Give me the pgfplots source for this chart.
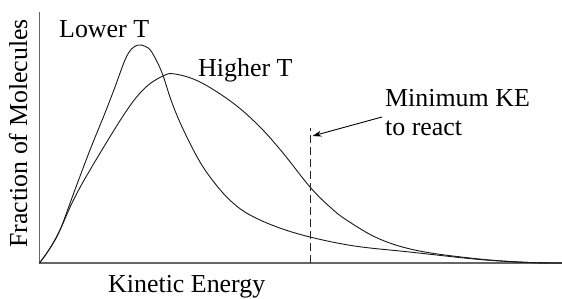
\documentclass[border=0pt]{standalone}
\usepackage{pgfplots}
\pgfplotsset{compat=1.18}
\usepackage{fontspec}
\setmainfont{Liberation Serif}
\usetikzlibrary{arrows.meta}
\begin{document}
\begin{tikzpicture}
\path[use as bounding box] (-39.5bp,-36bp) rectangle (522.5bp,263bp);
\begin{axis}[
  at={(0,0)}, anchor=south west,
  scale only axis, width=522.5bp, height=251bp,
  xmin=0, xmax=522.5, ymin=0, ymax=251,
  enlargelimits=false,
  axis lines=left,
  axis line style={-, draw=black!60, line width=1.2bp},
  xtick=\empty, ytick=\empty,
  clip=false,
]
\addplot[smooth, tension=0.6, black!90, line width=0.9bp] coordinates {
(0,0) (10,14) (20.5,33) (35,72) (50.5,113) (65.5,150) (75.5,176)
(85.5,203) (92,214) (99,218) (106,216.5) (112.2,211) (122.2,191)
(132.2,161) (143.5,134) (160.5,101) (177.5,77) (193.5,60)
(210.5,48) (237.5,36) (270.5,26) (315,17) (370,11) (440,3.5) (490,0.5)
(522.5,0)
};
\addplot[smooth, tension=0.6, black!90, line width=0.9bp] coordinates {
(0,0) (10,14) (20.5,33) (33.5,62) (50.5,93) (85.5,150) (105.5,175)
(123.5,187) (135.5,189) (160.5,181) (193.5,160) (220.5,136) (243.5,110)
(270.5,76) (290.5,56) (307,43) (340,24) (380,12) (440,4) (490,0.5)
(522.5,0)
};
\addplot[black!85, line width=0.9bp, dash pattern=on 8bp off 4bp] coordinates {(270.5,0) (270.5,135)};
\draw[black, line width=0.9bp, -{Stealth[length=9bp,width=6bp]}] (axis cs:342.5,146) -- (axis cs:273,127);
\node[anchor=base west, inner sep=0pt, font=\fontsize{26}{30}\selectfont] at (axis cs:19.5,225) {Lower T};
\node[anchor=base west, inner sep=0pt, font=\fontsize{26}{30}\selectfont] at (axis cs:158.5,186) {Higher T};
\node[anchor=base west, inner sep=0pt, font=\fontsize{26}{30}\selectfont] at (axis cs:345.5,156) {Minimum KE};
\node[anchor=base west, inner sep=0pt, font=\fontsize{26}{30}\selectfont] at (axis cs:345.5,127) {to react};
\node[anchor=base west, inner sep=0pt, font=\fontsize{26}{30}\selectfont] at (axis cs:68.5,-29.5) {Kinetic Energy};
\node[anchor=base west, rotate=90, inner sep=0pt, font=\fontsize{26}{30}\selectfont] at (axis cs:-12.5,15) {Fraction of Molecules};
\end{axis}
\end{tikzpicture}
\end{document}
